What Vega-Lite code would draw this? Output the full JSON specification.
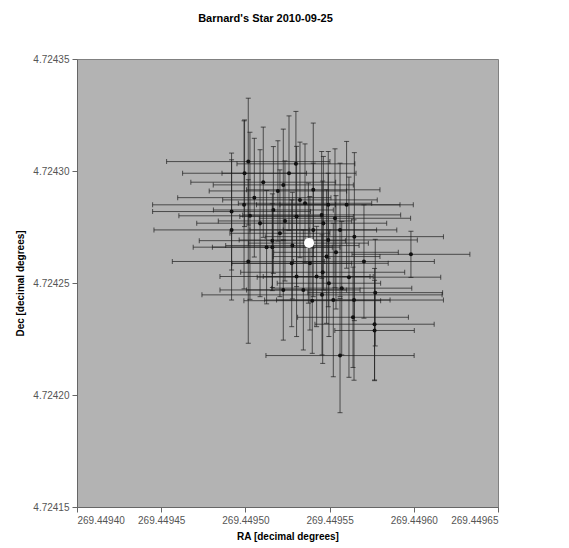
{
  "$schema": "https://vega.github.io/schema/vega-lite/v6.json",
  "width": 421,
  "height": 448,
  "autosize": "none",
  "padding": {"left": 77, "top": 59, "right": 71, "bottom": 41},
  "background": "white",
  "title": {"text": "Barnard's Star 2010-09-25", "font": "Liberation Sans", "fontSize": 11, "fontWeight": "bold", "color": "#000000", "offset": 30, "dx": -22},
  "config": {
    "view": {"fill": "#b3b3b3", "stroke": "#808080", "strokeWidth": 1},
    "axis": {"labelFont": "Liberation Sans", "labelFontSize": 10, "labelColor": "#555555", "titleFont": "Liberation Sans", "titleFontSize": 10, "titleFontWeight": "bold", "titleColor": "#000000", "domainColor": "#666666", "tickColor": "#666666", "tickSize": 5, "grid": false, "labelPadding": 3}
  },
  "data": {"values": [
    {"ra": 269.4495017, "dec": 4.7243042, "ex": 4.85e-5, "ey": 2.83e-5},
    {"ra": 269.4494995, "dec": 4.7242990, "ex": 3.68e-5, "ey": 2.38e-5},
    {"ra": 269.4495259, "dec": 4.7242990, "ex": 3.98e-5, "ey": 2.56e-5},
    {"ra": 269.4495300, "dec": 4.7243032, "ex": 3.50e-5, "ey": 2.34e-5},
    {"ra": 269.4495106, "dec": 4.7242950, "ex": 4.30e-5, "ey": 2.46e-5},
    {"ra": 269.4495225, "dec": 4.7242938, "ex": 4.16e-5, "ey": 2.49e-5},
    {"ra": 269.4495193, "dec": 4.7242911, "ex": 4.08e-5, "ey": 2.24e-5},
    {"ra": 269.4495053, "dec": 4.7242881, "ex": 4.55e-5, "ey": 2.65e-5},
    {"ra": 269.4495324, "dec": 4.7242871, "ex": 4.59e-5, "ey": 2.58e-5},
    {"ra": 269.4494992, "dec": 4.7242849, "ex": 5.43e-5, "ey": 3.75e-5},
    {"ra": 269.4495492, "dec": 4.7242849, "ex": 4.26e-5, "ey": 2.38e-5},
    {"ra": 269.4494918, "dec": 4.7242819, "ex": 4.69e-5, "ey": 2.61e-5},
    {"ra": 269.4495027, "dec": 4.7242800, "ex": 4.22e-5, "ey": 3.73e-5},
    {"ra": 269.4495453, "dec": 4.7242804, "ex": 4.69e-5, "ey": 2.83e-5},
    {"ra": 269.4495532, "dec": 4.7242789, "ex": 4.49e-5, "ey": 3.10e-5},
    {"ra": 269.4495235, "dec": 4.7242777, "ex": 3.96e-5, "ey": 2.68e-5},
    {"ra": 269.4494918, "dec": 4.7242737, "ex": 4.61e-5, "ey": 3.13e-5},
    {"ra": 269.4495647, "dec": 4.7242707, "ex": 5.29e-5, "ey": 3.75e-5},
    {"ra": 269.4495160, "dec": 4.7242689, "ex": 4.34e-5, "ey": 2.09e-5},
    {"ra": 269.4495492, "dec": 4.7242692, "ex": 5.29e-5, "ey": 2.98e-5},
    {"ra": 269.4495126, "dec": 4.7242660, "ex": 4.36e-5, "ey": 2.53e-5},
    {"ra": 269.4495160, "dec": 4.7242660, "ex": 3.56e-5, "ey": 1.94e-5},
    {"ra": 269.4495279, "dec": 4.7242667, "ex": 3.96e-5, "ey": 2.38e-5},
    {"ra": 269.4495538, "dec": 4.7242637, "ex": 3.70e-5, "ey": 2.53e-5},
    {"ra": 269.4495983, "dec": 4.7242628, "ex": 3.50e-5, "ey": 1.03e-5},
    {"ra": 269.4495017, "dec": 4.7242596, "ex": 4.51e-5, "ey": 3.65e-5},
    {"ra": 269.4495704, "dec": 4.7242596, "ex": 4.18e-5, "ey": 2.53e-5},
    {"ra": 269.4495383, "dec": 4.7242588, "ex": 4.65e-5, "ey": 2.98e-5},
    {"ra": 269.4495459, "dec": 4.7242548, "ex": 4.87e-5, "ey": 4.07e-5},
    {"ra": 269.4495615, "dec": 4.7242526, "ex": 5.45e-5, "ey": 4.47e-5},
    {"ra": 269.4495496, "dec": 4.7242499, "ex": 3.07e-5, "ey": 2.38e-5},
    {"ra": 269.4495572, "dec": 4.7242477, "ex": 4.16e-5, "ey": 2.98e-5},
    {"ra": 269.4495771, "dec": 4.7242457, "ex": 4.00e-5, "ey": 2.38e-5},
    {"ra": 269.4495455, "dec": 4.7242447, "ex": 7.13e-5, "ey": 2.68e-5},
    {"ra": 269.4495397, "dec": 4.7242421, "ex": 4.06e-5, "ey": 2.35e-5},
    {"ra": 269.4495645, "dec": 4.7242424, "ex": 5.31e-5, "ey": 3.58e-5},
    {"ra": 269.4495639, "dec": 4.7242347, "ex": 3.29e-5, "ey": 2.24e-5},
    {"ra": 269.4495767, "dec": 4.7242316, "ex": 3.54e-5, "ey": 2.49e-5},
    {"ra": 269.4495767, "dec": 4.7242288, "ex": 2.36e-5, "ey": 2.24e-5},
    {"ra": 269.4495562, "dec": 4.7242176, "ex": 4.40e-5, "ey": 2.55e-5},
    {"ra": 269.4495354, "dec": 4.7242856, "ex": 3.96e-5, "ey": 2.65e-5},
    {"ra": 269.4495403, "dec": 4.7242737, "ex": 3.76e-5, "ey": 2.98e-5},
    {"ra": 269.4495374, "dec": 4.7242678, "ex": 3.56e-5, "ey": 2.68e-5},
    {"ra": 269.4495205, "dec": 4.7242722, "ex": 2.97e-5, "ey": 2.83e-5},
    {"ra": 269.4495087, "dec": 4.7242767, "ex": 3.76e-5, "ey": 3.28e-5},
    {"ra": 269.4495304, "dec": 4.7242797, "ex": 3.37e-5, "ey": 3.13e-5},
    {"ra": 269.4495423, "dec": 4.7242529, "ex": 3.17e-5, "ey": 2.24e-5},
    {"ra": 269.4495344, "dec": 4.7242469, "ex": 3.37e-5, "ey": 2.68e-5},
    {"ra": 269.4495562, "dec": 4.7242737, "ex": 3.37e-5, "ey": 2.98e-5},
    {"ra": 269.4495482, "dec": 4.7242618, "ex": 3.17e-5, "ey": 2.98e-5},
    {"ra": 269.4495275, "dec": 4.7242588, "ex": 3.56e-5, "ey": 2.83e-5},
    {"ra": 269.4495601, "dec": 4.7242849, "ex": 3.96e-5, "ey": 2.83e-5},
    {"ra": 269.4495166, "dec": 4.7242826, "ex": 3.56e-5, "ey": 2.83e-5},
    {"ra": 269.4495403, "dec": 4.7242916, "ex": 3.96e-5, "ey": 2.98e-5},
    {"ra": 269.4495304, "dec": 4.7242529, "ex": 4.55e-5, "ey": 2.68e-5},
    {"ra": 269.4495225, "dec": 4.7242469, "ex": 3.76e-5, "ey": 2.24e-5},
    {"ra": 269.4495522, "dec": 4.7242424, "ex": 3.37e-5, "ey": 3.43e-5},
    {"ra": 269.4495463, "dec": 4.7242767, "ex": 3.76e-5, "ey": 2.98e-5}
  ]},
  "encoding": {
    "x": {"field": "ra", "type": "quantitative", "scale": {"domain": [269.4494, 269.44965], "zero": false, "nice": false}, "axis": {"title": "RA [decimal degrees]", "values": [269.4494, 269.44945, 269.4495, 269.44955, 269.4496, 269.44965], "format": ".5f", "titlePadding": 6}},
    "y": {"field": "dec", "type": "quantitative", "scale": {"domain": [4.72415, 4.72435], "zero": false, "nice": false}, "axis": {"title": "Dec [decimal degrees]", "values": [4.72415, 4.7242, 4.72425, 4.7243, 4.72435], "format": ".5f", "titlePadding": 7}}
  },
  "layer": [
    {"mark": {"type": "errorbar", "ticks": {"size": 5}, "color": "#1e1e1e", "opacity": 0.7, "thickness": 1}, "encoding": {"xError": {"field": "ex"}}},
    {"mark": {"type": "errorbar", "ticks": {"size": 5}, "color": "#1e1e1e", "opacity": 0.7, "thickness": 1}, "encoding": {"yError": {"field": "ey"}}},
    {"mark": {"type": "point", "filled": true, "size": 16, "color": "#111111", "opacity": 1}},
    {"data": {"values": [{"ra": 269.4495378, "dec": 4.7242679}]}, "mark": {"type": "circle", "size": 100, "color": "#ffffff", "opacity": 1}}
  ]
}
